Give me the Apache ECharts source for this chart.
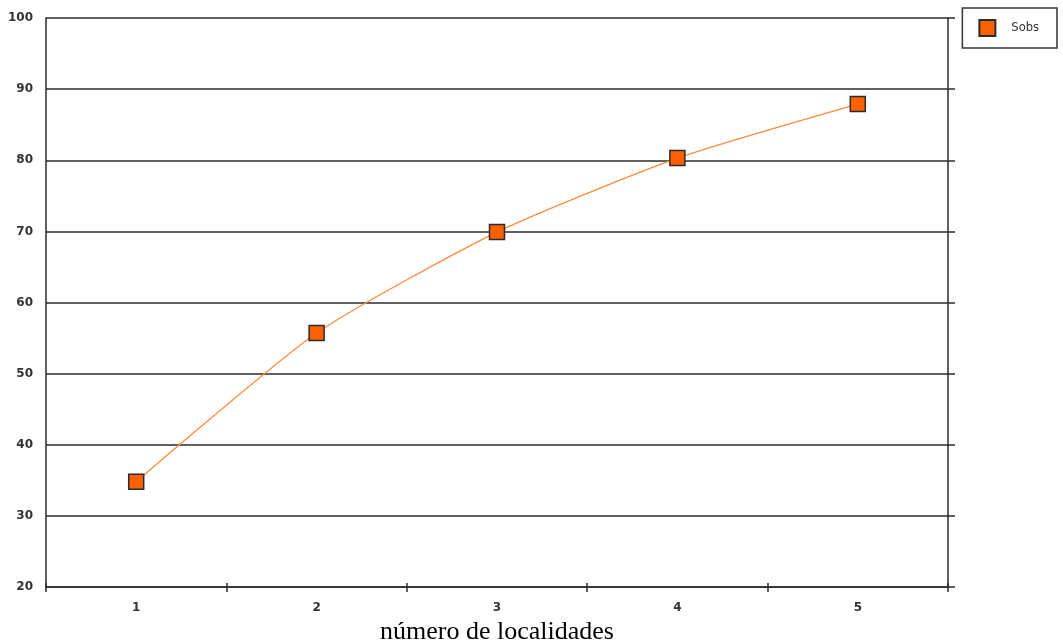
<!DOCTYPE html>
<html>
<head>
<meta charset="utf-8">
<script src="https://cdn.jsdelivr.net/npm/echarts@6/dist/echarts.min.js"></script>
<style>
  html, body { margin: 0; padding: 0; background: #fff; }
  #chart { width: 1063px; height: 642px; }
</style>
</head>
<body>
<div id="chart"></div>
<script>
// Species observed (Sobs) against number of sampled localities
const categories = ['1', '2', '3', '4', '5'];
const sobs = [34.8, 55.7, 69.9, 80.3, 87.9];
const yTicks = { min: 20, max: 100, step: 10 };

const axisColor = '#2b2b2b';
const labelFont = { fontFamily: 'DejaVu Sans, Verdana, sans-serif', fontSize: 12, fontWeight: 'bold', color: '#333' };

const chart = echarts.init(document.getElementById('chart'));
chart.setOption({
  animation: false,
  backgroundColor: '#fff',
  grid: { left: 46, right: 115, top: 18, bottom: 55, outerBoundsMode: 'none' },
  legend: {
    right: 6, top: 8,
    orient: 'vertical',
    padding: [11, 18, 11, 16],
    borderColor: '#333', borderWidth: 1.5,
    itemWidth: 16, itemHeight: 16,
    textStyle: { fontFamily: 'DejaVu Sans, Verdana, sans-serif', fontSize: 11.5, color: '#333', padding: [0, 0, 0, 11] },
    data: [{ name: 'Sobs', icon: 'rect' }]
  },
  xAxis: [
    {
      type: 'category',
      data: categories,
      boundaryGap: true,
      name: 'número de localidades',
      nameLocation: 'middle',
      nameGap: 27,
      nameTextStyle: { fontFamily: 'Liberation Serif, Times New Roman, serif', fontSize: 26, color: '#000' },
      axisLine: { lineStyle: { color: axisColor, width: 1.5 } },
      axisTick: { show: true, length: 5, lineStyle: { color: axisColor, width: 1.5 } },
      axisLabel: Object.assign({ margin: 15 }, labelFont),
      splitLine: { show: false }
    },
    {
      type: 'category',
      data: categories,
      position: 'bottom',
      boundaryGap: true,
      axisLine: { show: false },
      axisTick: { show: true, inside: true, length: 4, lineStyle: { color: axisColor, width: 1.5 } },
      axisLabel: { show: false },
      splitLine: { show: false }
    }
  ],
  yAxis: [
    {
      type: 'value',
      min: yTicks.min, max: yTicks.max, interval: yTicks.step,
      axisLine: { show: true, lineStyle: { color: axisColor, width: 1.5 } },
      axisTick: { show: false },
      axisLabel: Object.assign({ margin: 13 }, labelFont),
      splitLine: { show: true, lineStyle: { color: axisColor, width: 1.5 } }
    },
    {
      type: 'value',
      position: 'right',
      min: yTicks.min, max: yTicks.max, interval: yTicks.step,
      axisLine: { show: true, lineStyle: { color: axisColor, width: 1.5 } },
      axisTick: { show: true, length: 7, lineStyle: { color: axisColor, width: 1.5 } },
      axisLabel: { show: false },
      splitLine: { show: false }
    }
  ],
  series: [{
    name: 'Sobs',
    type: 'line',
    data: sobs,
    smooth: 0.2,
    symbol: 'rect',
    symbolSize: 15,
    lineStyle: { color: '#ff8a3d', width: 1.3 },
    itemStyle: { color: '#ff6000', borderColor: '#2b2b2b', borderWidth: 1.5 }
  }]
});
</script>
</body>
</html>
